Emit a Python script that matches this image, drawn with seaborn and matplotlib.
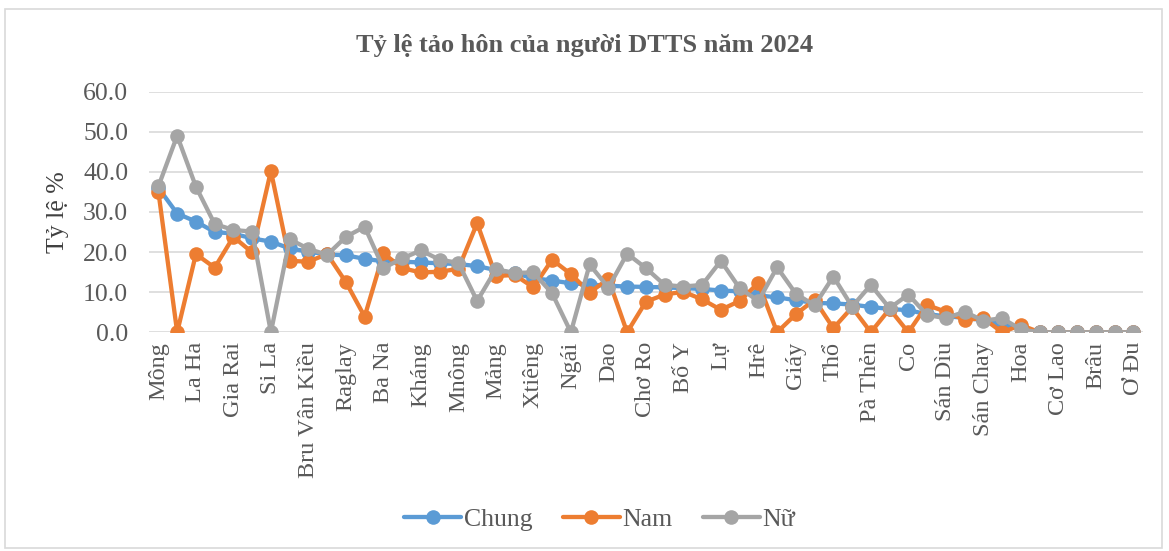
import pandas as pd
import matplotlib
matplotlib.use('Agg')
import matplotlib.pyplot as plt
import seaborn as sns
from matplotlib.patches import Rectangle

# categories (53 ethnic groups, every other one labelled on the axis)
dan_toc = ['Mông', 'La Hủ', 'La Ha', 'Xinh Mun', 'Gia Rai', 'Khơ Mú', 'Si La', 'Hà Nhì',
           'Bru Vân Kiều', 'Chứt', 'Raglay', 'Mạ', 'Ba Na', 'Xơ Đăng', 'Kháng', 'Cơ Ho',
           'Mnông', 'Ê Đê', 'Mảng', 'Phù Lá', 'Xtiêng', 'Chu Ru', 'Ngái', 'La Chí',
           'Dao', 'Giẻ Triêng', 'Chơ Ro', 'Thái', 'Bố Y', 'Cơ Tu', 'Lự', 'Tà Ôi',
           'Hrê', 'Lào', 'Giáy', 'Lô Lô', 'Thổ', 'Khmer', 'Pà Thẻn', 'Chăm',
           'Co', 'Nùng', 'Sán Dìu', 'Mường', 'Sán Chay', 'Tày', 'Hoa', 'Cống',
           'Cơ Lao', 'Pu Péo', 'Brâu', 'Rơ Măm', 'Ơ Đu']

chung = [36.0, 29.6, 27.6, 25.0, 24.6, 23.4, 22.6, 20.9, 20.1, 19.4,
         19.2, 18.3, 17.7, 17.6, 17.4, 17.2, 17.0, 16.5, 15.5, 14.7,
         13.5, 12.9, 12.2, 11.9, 11.6, 11.4, 11.3, 11.2, 11.0, 10.8,
         10.4, 10.2, 9.2, 8.7, 8.0, 7.3, 7.2, 6.9, 6.3, 5.8,
         5.5, 4.5, 4.0, 3.6, 3.0, 2.0, 1.2, 0, 0, 0, 0, 0, 0]
nam = [35.0, 0, 19.5, 16.1, 23.8, 19.9, 40.2, 17.8, 17.6, 19.5,
       12.5, 3.9, 19.7, 16.0, 14.9, 15.1, 15.8, 27.2, 14.0, 14.3,
       11.2, 18.1, 14.5, 9.9, 13.3, 0, 7.6, 9.4, 10.1, 8.2,
       5.6, 7.8, 12.3, 0, 4.5, 8.1, 1.0, 6.2, 0, 5.8,
       0, 6.8, 5.1, 3.1, 3.5, 0, 1.8, 0, 0, 0, 0, 0, 0]
nu = [36.4, 49.0, 36.3, 27.0, 25.5, 25.1, 0, 23.2, 20.8, 19.3,
      23.8, 26.3, 16.0, 18.4, 20.4, 18.1, 17.3, 7.8, 15.7, 14.8,
      14.9, 9.7, 0, 16.9, 11.1, 19.6, 16.0, 11.8, 11.4, 11.8,
      17.8, 11.0, 7.8, 16.2, 9.6, 6.7, 13.9, 6.4, 11.8, 6.0,
      9.4, 4.3, 3.5, 5.1, 2.9, 3.5, 0.7, 0, 0, 0, 0, 0, 0]

series = ['Chung', 'Nam', 'Nữ']
colors = ['#5B9BD5', '#ED7D31', '#A5A5A5']

df = pd.DataFrame({'pos': list(range(len(dan_toc))) * 3,
                   'ty_le': chung + nam + nu,
                   'nhom': [s for s in series for _ in dan_toc]})

sns.set_style('white')
plt.rcParams['font.family'] = ['Liberation Serif', 'DejaVu Serif']

fig = plt.figure(figsize=(11.69, 5.51), dpi=100)
ax = fig.add_axes([0.1275, 0.397, 0.850, 0.4367])

sns.lineplot(data=df, x='pos', y='ty_le', hue='nhom', hue_order=series,
             palette=colors, marker='o', markersize=10.5, markeredgewidth=0,
             linewidth=3.1, sort=False, ax=ax, legend=True)

ax.set_xlim(-0.5, len(dan_toc) - 0.5)
ax.set_ylim(0, 60)
ax.set_yticks(range(0, 61, 10))
ax.set_yticklabels([f'{v:.1f}' for v in range(0, 61, 10)], fontsize=18.5, color='#595959')
ax.set_xticks(range(0, len(dan_toc), 2))
ax.set_xticklabels(dan_toc[::2], rotation=90, fontsize=17.5, color='#595959')
ax.tick_params(axis='y', length=0, pad=15)
ax.tick_params(axis='x', length=0, pad=7)
ax.grid(axis='y', color='#d9d9d9', linewidth=1.2)
ax.set_axisbelow(True)
for s in ax.spines.values():
    s.set_visible(False)
ax.set_xlabel('')
ax.set_ylabel('Tỷ lệ %', fontsize=18.5, color='#404040', labelpad=10)

ax.legend(loc='lower center', bbox_to_anchor=(0.513, -0.005), bbox_transform=fig.transFigure,
          ncol=3, frameon=False, fontsize=18.5, handlelength=2.2, columnspacing=1.2,
          handletextpad=0.1, labelcolor='#595959')

fig.text(0.5, 0.918, 'Tỷ lệ tảo hôn của người DTTS năm 2024', ha='center', va='center',
         fontsize=19, fontweight='bold', color='#595959')

fig.patches.append(Rectangle((0.004, 0.006), 0.99, 0.978, transform=fig.transFigure,
                             fill=False, edgecolor='#d9d9d9', linewidth=1.2))

fig.savefig('out.png', dpi=100)
